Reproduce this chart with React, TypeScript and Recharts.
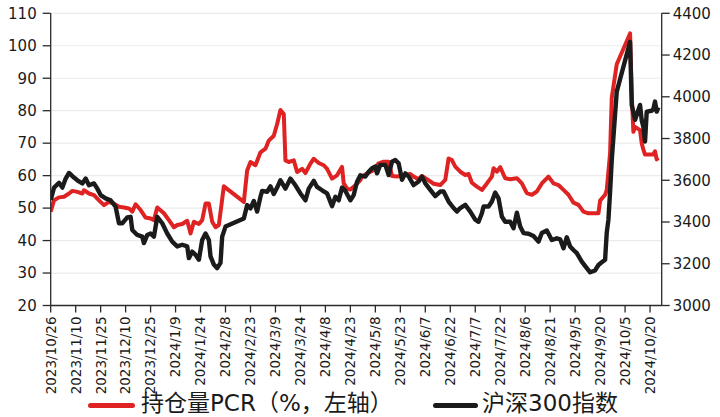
import React from "react";
import { LineChart, Line, XAxis, YAxis, CartesianGrid } from "recharts";

const pcrDates = [
  "2023/10/26","2023/10/28","2023/10/31","2023/11/3","2023/11/6","2023/11/8","2023/11/11","2023/11/14","2023/11/15","2023/11/18",
  "2023/11/21","2023/11/24","2023/11/27","2023/11/30","2023/12/3","2023/12/6","2023/12/9","2023/12/12","2023/12/14","2023/12/16",
  "2023/12/19","2023/12/22","2023/12/25","2023/12/27","2023/12/29","2024/1/2","2024/1/5","2024/1/8","2024/1/10","2024/1/13",
  "2024/1/16","2024/1/18","2024/1/20","2024/1/23","2024/1/25","2024/1/27","2024/1/29","2024/1/31","2024/2/2","2024/2/4",
  "2024/2/7","2024/2/19","2024/2/21","2024/2/23","2024/2/26","2024/2/29","2024/3/3","2024/3/5","2024/3/8","2024/3/10",
  "2024/3/12","2024/3/14","2024/3/15","2024/3/17","2024/3/20","2024/3/22","2024/3/25","2024/3/27","2024/3/30","2024/4/1",
  "2024/4/4","2024/4/7","2024/4/9","2024/4/12","2024/4/15","2024/4/18","2024/4/19","2024/4/21","2024/4/23","2024/4/26",
  "2024/4/29","2024/4/30","2024/5/3","2024/5/7","2024/5/10","2024/5/13","2024/5/16","2024/5/18","2024/5/21","2024/5/25",
  "2024/5/29","2024/5/31","2024/6/3","2024/6/5","2024/6/8","2024/6/12","2024/6/16","2024/6/19","2024/6/21","2024/6/23",
  "2024/6/25","2024/6/28","2024/7/1","2024/7/3","2024/7/5","2024/7/8","2024/7/11","2024/7/14","2024/7/17","2024/7/18",
  "2024/7/20","2024/7/22","2024/7/25","2024/7/28","2024/8/1","2024/8/4","2024/8/7","2024/8/10","2024/8/13","2024/8/16",
  "2024/8/20","2024/8/23","2024/8/26","2024/8/29","2024/9/1","2024/9/4","2024/9/7","2024/9/10","2024/9/13","2024/9/16",
  "2024/9/19","2024/9/20","2024/9/23","2024/9/24","2024/9/26","2024/9/27","2024/9/30","2024/10/8","2024/10/9","2024/10/10",
  "2024/10/11","2024/10/14","2024/10/15","2024/10/16","2024/10/17","2024/10/18","2024/10/21","2024/10/22","2024/10/23","2024/10/24",
  "2024/10/25",
];
const pcrValues = [
  48.9,52.4,53.3,53.5,54.5,55.3,55,54.5,55.5,54.5,
  54,52.4,50.9,51.9,51.4,50.4,50.2,49.9,48.9,51.2,
  49.4,47.1,46.8,46.3,50.2,48.4,46.3,44.1,44.8,45.1,
  46.1,42.2,45.8,45.1,46.3,51.4,51.4,45.8,44.1,44.8,
  56.7,51.9,61.6,64.2,63.2,67.2,68.3,70.8,72.3,75.9,
  80.2,79,64.7,64.2,64.7,61.1,62.1,60.8,63.7,65.2,
  63.9,63.2,62.1,59.1,60.1,62.7,57.6,56,55.7,57,
  58.6,59.7,60.7,61.7,63.8,64.3,64.3,59.9,59.7,60.2,
  60.5,59.7,58.9,59.9,58.9,57.5,57.1,58.7,65.3,64.8,
  62.8,61.2,60.2,60.5,57.8,56.6,55.6,57.6,59.7,62.3,
  61.2,62.6,59.2,58.9,59.2,57.6,54.6,54.1,55.1,57.6,
  59.7,57.6,57.1,55.6,54.1,51.7,51,48.9,48.4,48.4,
  48.4,52.3,54.1,55.6,66.9,84,94.3,103.8,85,73.5,
  75,74,70,68,66.5,66.5,66.5,66.5,67.5,65,
  65.5,
];

const csiDates = [
  "2023/10/26","2023/10/28","2023/10/31","2023/11/2","2023/11/4","2023/11/6","2023/11/9","2023/11/11","2023/11/14","2023/11/16",
  "2023/11/18","2023/11/21","2023/11/23","2023/11/25","2023/11/28","2023/12/1","2023/12/4","2023/12/6","2023/12/8","2023/12/11",
  "2023/12/13","2023/12/14","2023/12/17","2023/12/20","2023/12/21","2023/12/23","2023/12/25","2023/12/27","2023/12/29","2024/1/1",
  "2024/1/4","2024/1/7","2024/1/10","2024/1/13","2024/1/16","2024/1/17","2024/1/19","2024/1/21","2024/1/23","2024/1/25",
  "2024/1/27","2024/1/29","2024/1/30","2024/2/1","2024/2/3","2024/2/5","2024/2/6","2024/2/8","2024/2/19","2024/2/21",
  "2024/2/23","2024/2/25","2024/2/27","2024/2/29","2024/3/1","2024/3/4","2024/3/6","2024/3/8","2024/3/10","2024/3/12",
  "2024/3/15","2024/3/18","2024/3/21","2024/3/24","2024/3/27","2024/3/29","2024/4/1","2024/4/3","2024/4/6","2024/4/9",
  "2024/4/12","2024/4/14","2024/4/16","2024/4/18","2024/4/20","2024/4/23","2024/4/25","2024/4/27","2024/4/29","2024/5/2",
  "2024/5/4","2024/5/6","2024/5/8","2024/5/9","2024/5/11","2024/5/14","2024/5/16","2024/5/18","2024/5/20","2024/5/22",
  "2024/5/24","2024/5/26","2024/5/28","2024/5/31","2024/6/3","2024/6/5","2024/6/7","2024/6/10","2024/6/13","2024/6/16",
  "2024/6/18","2024/6/21","2024/6/24","2024/6/26","2024/6/28","2024/7/1","2024/7/4","2024/7/7","2024/7/9","2024/7/11",
  "2024/7/12","2024/7/15","2024/7/17","2024/7/19","2024/7/21","2024/7/23","2024/7/25","2024/7/28","2024/7/30","2024/8/1",
  "2024/8/3","2024/8/5","2024/8/8","2024/8/11","2024/8/14","2024/8/16","2024/8/19","2024/8/22","2024/8/25","2024/8/27",
  "2024/8/29","2024/8/31","2024/9/2","2024/9/4","2024/9/6","2024/9/9","2024/9/12","2024/9/14","2024/9/17","2024/9/19",
  "2024/9/21","2024/9/23","2024/9/24","2024/9/25","2024/9/26","2024/9/27","2024/9/30","2024/10/8","2024/10/9","2024/10/10",
  "2024/10/11","2024/10/14","2024/10/15","2024/10/16","2024/10/17","2024/10/18","2024/10/21","2024/10/22","2024/10/23","2024/10/24",
  "2024/10/25",
];
const csiValues = [
  3506,3565,3588,3565,3608,3635,3613,3600,3585,3608,
  3576,3585,3560,3529,3513,3504,3473,3394,3394,3422,
  3425,3362,3338,3330,3299,3338,3345,3330,3425,3394,
  3345,3306,3283,3291,3283,3227,3258,3243,3219,3314,
  3345,3314,3235,3196,3179,3204,3330,3378,3417,3481,
  3465,3501,3450,3521,3549,3545,3571,3534,3565,3600,
  3560,3608,3576,3537,3504,3560,3597,3568,3552,3537,
  3476,3521,3504,3565,3549,3504,3529,3593,3624,3618,
  3641,3658,3666,3633,3674,3674,3625,3689,3697,3681,
  3602,3633,3618,3577,3594,3618,3585,3554,3524,3546,
  3546,3498,3467,3450,3467,3482,3450,3411,3401,3442,
  3474,3474,3498,3541,3513,3426,3401,3401,3370,3445,
  3378,3347,3344,3333,3306,3347,3359,3314,3322,3317,
  3274,3327,3283,3266,3251,3210,3179,3159,3168,3194,
  3207,3219,3350,3411,3545,3697,4025,4263,3961,3926,
  3890,3961,3887,3856,3786,3929,3933,3941,3977,3929,
  3949,
];

const tickLabels = [
  "2023/10/26","2023/11/10","2023/11/25","2023/12/10","2023/12/25","2024/1/9","2024/1/24","2024/2/8","2024/2/23","2024/3/9",
  "2024/3/24","2024/4/8","2024/4/23","2024/5/8","2024/5/23","2024/6/7","2024/6/22","2024/7/7","2024/7/22","2024/8/6",
  "2024/8/21","2024/9/5","2024/9/20","2024/10/5","2024/10/20",
];
const leftTicks = [20, 30, 40, 50, 60, 70, 80, 90, 100, 110];
const rightTicks = [3000, 3200, 3400, 3600, 3800, 4000, 4200, 4400];
const axisEnd = "2024/10/27";
const legendLabels = ["持仓量PCR（%，左轴）", "沪深300指数"];

const RED = "#DF2222";
const BLACK = "#1B1B1B";
const AXIS = "#2a2a2a";
const TICK_FONT = "'DejaVu Sans', Verdana, sans-serif";
const LEGEND_FONT = "'DejaVu Sans', 'Noto Sans CJK SC', sans-serif";

const BASE = Date.UTC(2023, 9, 26);
const toDay = (s: string) => {
  const [y, m, d] = s.split("/").map(Number);
  return Math.round((Date.UTC(y, m - 1, d) - BASE) / 86400000);
};

type Row = { d: number; date: string; pcr?: number; csi?: number };
const buildData = (): Row[] => {
  const map = new Map<number, Row>();
  pcrDates.forEach((s, i) => {
    const d = toDay(s);
    const r = map.get(d) || { d, date: s };
    r.pcr = pcrValues[i];
    map.set(d, r);
  });
  csiDates.forEach((s, i) => {
    const d = toDay(s);
    const r = map.get(d) || { d, date: s };
    r.csi = csiValues[i];
    map.set(d, r);
  });
  return Array.from(map.values()).sort((a, b) => a.d - b.d);
};
const data = buildData();
const xTicks = tickLabels.map(toDay);
const labelByDay = new Map<number, string>(tickLabels.map((s) => [toDay(s), s]));

const XTick = (props: any) => {
  const { x, y, payload } = props;
  return (
    <text
      x={0}
      y={0}
      transform={`translate(${x},${y}) rotate(-90)`}
      textAnchor="end"
      dy="0.36em"
      fontSize={13.5}
      fontFamily={TICK_FONT}
      fill="#1a1a1a"
    >
      {labelByDay.get(payload.value) ?? ""}
    </text>
  );
};

const legendText: React.CSSProperties = {
  position: "absolute",
  top: 392,
  fontFamily: LEGEND_FONT,
  fontSize: 23,
  lineHeight: "23px",
  color: "#1a1a1a",
  whiteSpace: "nowrap",
};

export default function App() {
  return (
    <div style={{ position: "relative", width: 720, height: 417, background: "#fff", overflow: "hidden" }}>
      <style>{"body{margin:0;overflow:hidden;background:#fff}"}</style>
      <LineChart
        width={720}
        height={400}
        data={data}
        margin={{ top: 13.3, right: 0, bottom: 0, left: 0 }}
      >
        <CartesianGrid vertical={false} stroke="#ebebeb" strokeWidth={1.2} />
        <XAxis
          dataKey="d"
          type="number"
          domain={[0, toDay(axisEnd)]}
          ticks={xTicks}
          interval={0}
          height={94.5}
          tickSize={7}
          tickMargin={4}
          tick={<XTick />}
          axisLine={{ stroke: AXIS, strokeWidth: 1.3 }}
          tickLine={{ stroke: AXIS, strokeWidth: 1.3 }}
          allowDataOverflow
        />
        <YAxis
          domain={[20, 110]}
          ticks={leftTicks}
          interval={0}
          width={50.7}
          tickSize={8}
          tickMargin={6}
          tick={{ fontSize: 15, fontFamily: TICK_FONT, fill: "#1a1a1a" }}
          axisLine={{ stroke: AXIS, strokeWidth: 1.3 }}
          tickLine={{ stroke: AXIS, strokeWidth: 1.3 }}
          allowDataOverflow
        />
        <YAxis
          yAxisId="right"
          orientation="right"
          domain={[3000, 4400]}
          ticks={rightTicks}
          interval={0}
          width={58.3}
          tickSize={8}
          tickMargin={3}
          tick={{ fontSize: 15, fontFamily: TICK_FONT, fill: "#1a1a1a" }}
          axisLine={{ stroke: AXIS, strokeWidth: 1.3 }}
          tickLine={{ stroke: AXIS, strokeWidth: 1.3 }}
          allowDataOverflow
        />
        <Line
          dataKey="pcr"
          type="linear"
          stroke={RED}
          strokeWidth={4}
          dot={false}
          connectNulls
          strokeLinejoin="round"
          isAnimationActive={false}
        />
        <Line
          dataKey="csi"
          yAxisId="right"
          type="linear"
          stroke={BLACK}
          strokeWidth={4.4}
          dot={false}
          connectNulls
          strokeLinejoin="round"
          isAnimationActive={false}
        />
      </LineChart>
      <div style={{ position: "absolute", left: 88, top: 402.5, width: 47, height: 5, background: RED, borderRadius: 2.5 }} />
      <div style={{ ...legendText, left: 141 }}>{legendLabels[0]}</div>
      <div style={{ position: "absolute", left: 433, top: 402.5, width: 45, height: 5, background: BLACK, borderRadius: 2.5 }} />
      <div style={{ ...legendText, left: 482 }}>{legendLabels[1]}</div>
    </div>
  );
}
